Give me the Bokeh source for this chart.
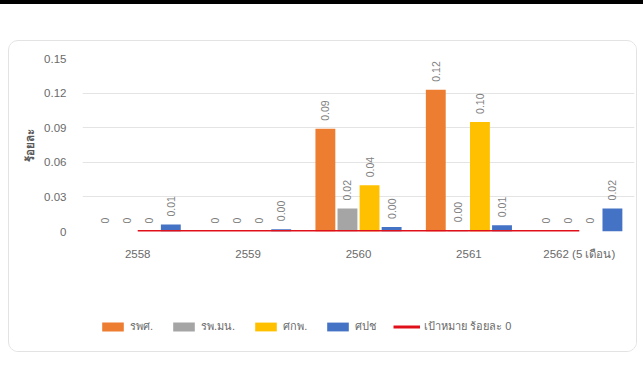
from bokeh.plotting import figure
from bokeh.models import (ColumnDataSource, FactorRange, Legend, LegendItem,
                          FixedTicker, CustomJSTickFormatter, Div, Range1d)
from bokeh.layouts import column
from bokeh.transform import dodge
from bokeh.embed import file_html
from bokeh.resources import INLINE
from bokeh.core.properties import value
import math

years = ["2558", "2559", "2560", "2561", "2562 (5 เดือน)"]
rps = [0, 0, 0.089, 0.123, 0]          # รพศ.
rpmn = [0, 0, 0.020, 0.001, 0]         # รพ.มน.
skp = [0, 0, 0.040, 0.095, 0]          # ศกพ.
spc = [0.006, 0.002, 0.004, 0.0055, 0.020]  # ศปช
target = [0, 0, 0, 0, 0]               # เป้าหมาย ร้อยละ 0
series_names = ["รพศ.", "รพ.มน.", "ศกพ.", "ศปช"]
target_name = "เป้าหมาย ร้อยละ 0"
y_ticks = [0, 0.03, 0.06, 0.09, 0.12, 0.15]

colors = ["#ED7D31", "#A5A5A5", "#FFC000", "#4472C4"]
red = "#E0101B"
FONT = "'Liberation Sans', Arial, sans-serif"

def lab(v):
    return "0" if v == 0 else f"{v:.2f}"

data = dict(x=years, target=target)
for key, vals in zip(["a", "b", "c", "d"], [rps, rpmn, skp, spc]):
    data[key] = vals
    data[key + "_l"] = [lab(v) for v in vals]
src = ColumnDataSource(data)

# ---------------- main chart ----------------
p = figure(x_range=FactorRange(*years), y_range=(0, 0.15),
           width=627, height=222, output_backend="svg", toolbar_location=None,
           min_border_left=73, min_border_right=2, min_border_top=17,
           min_border_bottom=32)
p.x_range.range_padding = 0
p.outline_line_color = None
p.background_fill_color = "white"
p.border_fill_color = "white"

offsets = [-0.3, -0.1, 0.1, 0.3]
for key, off, col in zip(["a", "b", "c", "d"], offsets, colors):
    p.vbar(x=dodge("x", off, range=p.x_range), top=key, width=0.18,
           source=src, fill_color=col, line_color=None)
    p.text(x=dodge("x", off, range=p.x_range), y=key, text=key + "_l",
           source=src, angle=math.pi / 2, text_align="left",
           text_baseline="middle", y_offset=-8, text_font_size="10.5px",
           text_color="#7f7f7f", text_font=value(FONT))

p.line(x="x", y="target", source=src, line_color=red, line_width=3)

p.xgrid.grid_line_color = None
p.ygrid.grid_line_color = "#e4e4e4"
p.ygrid.grid_line_width = 1

p.yaxis.ticker = FixedTicker(ticks=y_ticks)
p.yaxis.formatter = CustomJSTickFormatter(code="return tick == 0 ? '0' : tick.toFixed(2);")
for ax in (p.xaxis[0], p.yaxis[0]):
    ax.axis_line_color = None
    ax.major_tick_line_color = None
    ax.minor_tick_line_color = None
    ax.major_tick_out = 0
    ax.major_tick_in = 0
    ax.minor_tick_out = 0
    ax.major_label_text_color = "#6a6a6a"
    ax.major_label_text_font = FONT
    ax.major_label_text_font_size = "11.5px"
p.yaxis.major_label_standoff = 16
p.xaxis.major_label_standoff = 16
p.yaxis.axis_label = "ร้อยละ"
p.yaxis.axis_label_text_font = FONT
p.yaxis.axis_label_text_font_style = "bold"
p.yaxis.axis_label_text_font_size = "11.5px"
p.yaxis.axis_label_text_color = "#595959"
p.yaxis.axis_label_standoff = 5

# ---------------- legend strip ----------------
lg = figure(width=627, height=88, output_backend="svg", toolbar_location=None,
            x_range=Range1d(0, 1), y_range=Range1d(0, 1),
            x_axis_location=None, y_axis_location=None,
            min_border=0, outline_line_color=None)
lg.grid.grid_line_color = None
nan = float("nan")
dummy = ColumnDataSource(dict(x=[nan], y=[nan]))
leg_r = [lg.vbar(x="x", top="y", width=0.1, source=dummy, fill_color=c,
                 line_color=None) for c in colors]
leg_l = lg.line(x="x", y="y", source=dummy, line_color=red, line_width=3)
items = [LegendItem(label=n, renderers=[r], index=0) for n, r in zip(series_names, leg_r)]
items.append(LegendItem(label=target_name, renderers=[leg_l], index=0))
legend = Legend(items=items, orientation="horizontal", location=(17, 16),
                glyph_width=27, glyph_height=11, label_standoff=4, spacing=17,
                padding=0, margin=0, border_line_color=None,
                background_fill_alpha=0, label_text_font=FONT,
                label_text_font_size="11px", label_text_color="#6a6a6a",
                label_height=12)
lg.add_layout(legend)

card = column(p, lg, margin=(36, 0, 0, 8), spacing=0,
              styles={"border": "1px solid #e3e3e3", "border-radius": "10px",
                      "overflow": "hidden"})
strip = Div(text="", width=643, height=4, margin=0,
            styles={"background-color": "black"})
root = column(strip, card, margin=0, spacing=0)

open("out.html", "w").write(file_html(root, INLINE))
